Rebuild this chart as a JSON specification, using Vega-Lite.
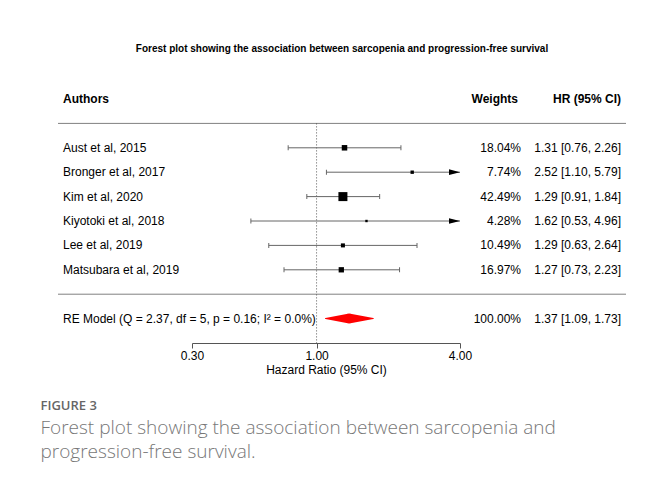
{
  "$schema": "https://vega.github.io/schema/vega-lite/v6.json",
  "padding": {"left": 40, "top": 44, "right": 5, "bottom": 5},
  "background": "white",
  "datasets": {
    "rows": [
      {"study": "Aust et al, 2015", "label": "Aust et al, 2015", "kind": "study", "weight": 18.04, "wlabel": "18.04%", "est": 1.31, "lo": 0.76, "hi": 2.26, "hr": "1.31 [0.76, 2.26]"},
      {"study": "Bronger et al, 2017", "label": "Bronger et al, 2017", "kind": "study", "weight": 7.74, "wlabel": "7.74%", "est": 2.52, "lo": 1.10, "hi": 5.79, "hr": "2.52 [1.10, 5.79]"},
      {"study": "Kim et al, 2020", "label": "Kim et al, 2020", "kind": "study", "weight": 42.49, "wlabel": "42.49%", "est": 1.29, "lo": 0.91, "hi": 1.84, "hr": "1.29 [0.91, 1.84]"},
      {"study": "Kiyotoki et al, 2018", "label": "Kiyotoki et al, 2018", "kind": "study", "weight": 4.28, "wlabel": "4.28%", "est": 1.62, "lo": 0.53, "hi": 4.96, "hr": "1.62 [0.53, 4.96]"},
      {"study": "Lee et al, 2019", "label": "Lee et al, 2019", "kind": "study", "weight": 10.49, "wlabel": "10.49%", "est": 1.29, "lo": 0.63, "hi": 2.64, "hr": "1.29 [0.63, 2.64]"},
      {"study": "Matsubara et al, 2019", "label": "Matsubara et al, 2019", "kind": "study", "weight": 16.97, "wlabel": "16.97%", "est": 1.27, "lo": 0.73, "hi": 2.23, "hr": "1.27 [0.73, 2.23]"},
      {"study": "RE Model", "label": "RE Model (Q = 2.37, df = 5, p = 0.16; I² = 0.0%)", "kind": "summary", "weight": 100, "wlabel": "100.00%", "est": 1.37, "lo": 1.09, "hi": 1.73, "hr": "1.37 [1.09, 1.73]"}
    ]
  },
  "title": {
    "text": "FIGURE 3",
    "subtitle": ["Forest plot showing the association between sarcopenia and", "progression-free survival."],
    "orient": "bottom", "anchor": "start", "dx": -17, "offset": 25,
    "font": "Open Sans", "fontSize": 13, "fontWeight": 600, "color": "#666666",
    "subtitleFont": "Open Sans", "subtitleFontSize": 19, "subtitleFontWeight": 300, "subtitleColor": "#777777",
    "subtitleLineHeight": 24, "subtitlePadding": 6
  },
  "vconcat": [
    {
      "title": {"text": "Forest plot showing the association between sarcopenia and progression-free survival", "anchor": "middle", "font": "Liberation Sans", "fontSize": 10, "fontWeight": "bold", "color": "#000000", "offset": 39},
      "bounds": "flush",
      "spacing": 0,
      "hconcat": [
        {
          "width": 134, "height": 244,
          "layer": [
            {"data": {"values": [{}]}, "mark": {"type": "rule", "color": "#808080"},
             "encoding": {"y": {"datum": "top-rule", "type": "nominal", "axis": null, "scale": {"type": "point", "padding": 0, "domain": ["Authors", "top-rule", "Aust et al, 2015", "Bronger et al, 2017", "Kim et al, 2020", "Kiyotoki et al, 2018", "Lee et al, 2019", "Matsubara et al, 2019", "bottom-rule", "RE Model", "axis"]}}}},
            {"data": {"values": [{}]}, "mark": {"type": "rule", "color": "#808080"},
             "encoding": {"y": {"datum": "bottom-rule", "type": "nominal", "axis": null, "scale": {"type": "point", "padding": 0, "domain": ["Authors", "top-rule", "Aust et al, 2015", "Bronger et al, 2017", "Kim et al, 2020", "Kiyotoki et al, 2018", "Lee et al, 2019", "Matsubara et al, 2019", "bottom-rule", "RE Model", "axis"]}}}},
            {"data": {"values": [{}]}, "mark": {"type": "text", "align": "left", "dx": 5, "fontSize": 12, "fontWeight": "bold", "color": "#000000"},
             "encoding": {"x": {"value": 0}, "text": {"value": "Authors"},
               "y": {"datum": "Authors", "type": "nominal", "axis": null, "scale": {"type": "point", "padding": 0, "domain": ["Authors", "top-rule", "Aust et al, 2015", "Bronger et al, 2017", "Kim et al, 2020", "Kiyotoki et al, 2018", "Lee et al, 2019", "Matsubara et al, 2019", "bottom-rule", "RE Model", "axis"]}}}},
            {"data": {"name": "rows"}, "mark": {"type": "text", "align": "left", "dx": 5, "fontSize": 12, "color": "#000000"},
             "encoding": {"x": {"value": 0}, "text": {"field": "label"},
               "y": {"field": "study", "type": "nominal", "axis": null, "scale": {"type": "point", "padding": 0, "domain": ["Authors", "top-rule", "Aust et al, 2015", "Bronger et al, 2017", "Kim et al, 2020", "Kiyotoki et al, 2018", "Lee et al, 2019", "Matsubara et al, 2019", "bottom-rule", "RE Model", "axis"]}}}}
          ]
        },
        {
          "width": 268, "height": 244,
          "layer": [
            {"data": {"values": [{}]}, "mark": {"type": "rule", "color": "#808080"},
             "encoding": {"y": {"datum": "top-rule", "type": "nominal", "axis": null, "scale": {"type": "point", "padding": 0, "domain": ["Authors", "top-rule", "Aust et al, 2015", "Bronger et al, 2017", "Kim et al, 2020", "Kiyotoki et al, 2018", "Lee et al, 2019", "Matsubara et al, 2019", "bottom-rule", "RE Model", "axis"]}}}},
            {"data": {"values": [{}]}, "mark": {"type": "rule", "color": "#808080"},
             "encoding": {"y": {"datum": "bottom-rule", "type": "nominal", "axis": null, "scale": {"type": "point", "padding": 0, "domain": ["Authors", "top-rule", "Aust et al, 2015", "Bronger et al, 2017", "Kim et al, 2020", "Kiyotoki et al, 2018", "Lee et al, 2019", "Matsubara et al, 2019", "bottom-rule", "RE Model", "axis"]}}}},
            {"data": {"values": [{}]}, "mark": {"type": "rule", "color": "#555555", "strokeDash": [1, 2]},
             "encoding": {
               "x": {"datum": 1, "type": "quantitative", "scale": {"type": "log", "domain": [0.3, 4], "nice": false}, "axis": {"values": [0.3, 1, 4], "format": ".2f", "title": "Hazard Ratio (95% CI)", "grid": false, "domainColor": "#555555", "tickColor": "#555555", "tickSize": 5, "labelFont": "Liberation Sans", "labelFontSize": 12, "labelColor": "#000000", "labelPadding": 2, "labelFlush": false, "labelOverlap": false, "titleFont": "Liberation Sans", "titleFontSize": 12, "titleFontWeight": "normal", "titleColor": "#000000", "titlePadding": 3}},
               "y": {"datum": "top-rule", "type": "nominal", "axis": null, "scale": {"type": "point", "padding": 0, "domain": ["Authors", "top-rule", "Aust et al, 2015", "Bronger et al, 2017", "Kim et al, 2020", "Kiyotoki et al, 2018", "Lee et al, 2019", "Matsubara et al, 2019", "bottom-rule", "RE Model", "axis"]}},
               "y2": {"datum": "axis"}}},
            {"data": {"name": "rows"}, "transform": [{"filter": "datum.kind === 'study'"}],
             "mark": {"type": "rule", "color": "#666666", "clip": true},
             "encoding": {
               "x": {"field": "lo", "type": "quantitative", "scale": {"type": "log", "domain": [0.3, 4], "nice": false}, "axis": {"values": [0.3, 1, 4], "format": ".2f", "title": "Hazard Ratio (95% CI)", "grid": false, "domainColor": "#555555", "tickColor": "#555555", "tickSize": 5, "labelFont": "Liberation Sans", "labelFontSize": 12, "labelColor": "#000000", "labelPadding": 2, "labelFlush": false, "labelOverlap": false, "titleFont": "Liberation Sans", "titleFontSize": 12, "titleFontWeight": "normal", "titleColor": "#000000", "titlePadding": 3}},
               "x2": {"field": "hi"},
               "y": {"field": "study", "type": "nominal", "axis": null, "scale": {"type": "point", "padding": 0, "domain": ["Authors", "top-rule", "Aust et al, 2015", "Bronger et al, 2017", "Kim et al, 2020", "Kiyotoki et al, 2018", "Lee et al, 2019", "Matsubara et al, 2019", "bottom-rule", "RE Model", "axis"]}}}},
            {"data": {"name": "rows"}, "transform": [{"filter": "datum.kind === 'study'"}],
             "mark": {"type": "tick", "orient": "vertical", "size": 5, "thickness": 1, "color": "#666666", "opacity": 1},
             "encoding": {
               "x": {"field": "lo", "type": "quantitative", "scale": {"type": "log", "domain": [0.3, 4], "nice": false}, "axis": {"values": [0.3, 1, 4], "format": ".2f", "title": "Hazard Ratio (95% CI)", "grid": false, "domainColor": "#555555", "tickColor": "#555555", "tickSize": 5, "labelFont": "Liberation Sans", "labelFontSize": 12, "labelColor": "#000000", "labelPadding": 2, "labelFlush": false, "labelOverlap": false, "titleFont": "Liberation Sans", "titleFontSize": 12, "titleFontWeight": "normal", "titleColor": "#000000", "titlePadding": 3}},
               "y": {"field": "study", "type": "nominal", "axis": null, "scale": {"type": "point", "padding": 0, "domain": ["Authors", "top-rule", "Aust et al, 2015", "Bronger et al, 2017", "Kim et al, 2020", "Kiyotoki et al, 2018", "Lee et al, 2019", "Matsubara et al, 2019", "bottom-rule", "RE Model", "axis"]}}}},
            {"data": {"name": "rows"}, "transform": [{"filter": "datum.kind === 'study' && datum.hi <= 4"}],
             "mark": {"type": "tick", "orient": "vertical", "size": 5, "thickness": 1, "color": "#666666", "opacity": 1},
             "encoding": {
               "x": {"field": "hi", "type": "quantitative", "scale": {"type": "log", "domain": [0.3, 4], "nice": false}, "axis": {"values": [0.3, 1, 4], "format": ".2f", "title": "Hazard Ratio (95% CI)", "grid": false, "domainColor": "#555555", "tickColor": "#555555", "tickSize": 5, "labelFont": "Liberation Sans", "labelFontSize": 12, "labelColor": "#000000", "labelPadding": 2, "labelFlush": false, "labelOverlap": false, "titleFont": "Liberation Sans", "titleFontSize": 12, "titleFontWeight": "normal", "titleColor": "#000000", "titlePadding": 3}},
               "y": {"field": "study", "type": "nominal", "axis": null, "scale": {"type": "point", "padding": 0, "domain": ["Authors", "top-rule", "Aust et al, 2015", "Bronger et al, 2017", "Kim et al, 2020", "Kiyotoki et al, 2018", "Lee et al, 2019", "Matsubara et al, 2019", "bottom-rule", "RE Model", "axis"]}}}},
            {"data": {"name": "rows"}, "transform": [{"filter": "datum.kind === 'study'"}],
             "mark": {"type": "point", "shape": "square", "filled": true, "color": "#000000", "opacity": 1},
             "encoding": {
               "x": {"field": "est", "type": "quantitative", "scale": {"type": "log", "domain": [0.3, 4], "nice": false}, "axis": {"values": [0.3, 1, 4], "format": ".2f", "title": "Hazard Ratio (95% CI)", "grid": false, "domainColor": "#555555", "tickColor": "#555555", "tickSize": 5, "labelFont": "Liberation Sans", "labelFontSize": 12, "labelColor": "#000000", "labelPadding": 2, "labelFlush": false, "labelOverlap": false, "titleFont": "Liberation Sans", "titleFontSize": 12, "titleFontWeight": "normal", "titleColor": "#000000", "titlePadding": 3}},
               "y": {"field": "study", "type": "nominal", "axis": null, "scale": {"type": "point", "padding": 0, "domain": ["Authors", "top-rule", "Aust et al, 2015", "Bronger et al, 2017", "Kim et al, 2020", "Kiyotoki et al, 2018", "Lee et al, 2019", "Matsubara et al, 2019", "bottom-rule", "RE Model", "axis"]}},
               "size": {"field": "weight", "type": "quantitative", "legend": null, "scale": {"type": "pow", "exponent": 1.15, "domain": [0, 42.49], "range": [0, 81]}}}},
            {"data": {"name": "rows"}, "transform": [{"filter": "datum.kind === 'study' && datum.hi > 4"}],
             "mark": {"type": "point", "shape": "M0,0L-1,-0.26L-1,0.26Z", "filled": true, "color": "#000000", "size": 484, "opacity": 1},
             "encoding": {
               "x": {"datum": 4, "type": "quantitative", "scale": {"type": "log", "domain": [0.3, 4], "nice": false}, "axis": {"values": [0.3, 1, 4], "format": ".2f", "title": "Hazard Ratio (95% CI)", "grid": false, "domainColor": "#555555", "tickColor": "#555555", "tickSize": 5, "labelFont": "Liberation Sans", "labelFontSize": 12, "labelColor": "#000000", "labelPadding": 2, "labelFlush": false, "labelOverlap": false, "titleFont": "Liberation Sans", "titleFontSize": 12, "titleFontWeight": "normal", "titleColor": "#000000", "titlePadding": 3}},
               "y": {"field": "study", "type": "nominal", "axis": null, "scale": {"type": "point", "padding": 0, "domain": ["Authors", "top-rule", "Aust et al, 2015", "Bronger et al, 2017", "Kim et al, 2020", "Kiyotoki et al, 2018", "Lee et al, 2019", "Matsubara et al, 2019", "bottom-rule", "RE Model", "axis"]}}}},
            {"data": {"name": "rows"}, "transform": [{"filter": "datum.kind === 'summary'"}, {"fold": ["lo", "est", "hi"]}],
             "mark": {"type": "trail", "color": "#ff0000"},
             "encoding": {
               "x": {"field": "value", "type": "quantitative", "scale": {"type": "log", "domain": [0.3, 4], "nice": false}, "axis": {"values": [0.3, 1, 4], "format": ".2f", "title": "Hazard Ratio (95% CI)", "grid": false, "domainColor": "#555555", "tickColor": "#555555", "tickSize": 5, "labelFont": "Liberation Sans", "labelFontSize": 12, "labelColor": "#000000", "labelPadding": 2, "labelFlush": false, "labelOverlap": false, "titleFont": "Liberation Sans", "titleFontSize": 12, "titleFontWeight": "normal", "titleColor": "#000000", "titlePadding": 3}},
               "y": {"field": "study", "type": "nominal", "axis": null, "scale": {"type": "point", "padding": 0, "domain": ["Authors", "top-rule", "Aust et al, 2015", "Bronger et al, 2017", "Kim et al, 2020", "Kiyotoki et al, 2018", "Lee et al, 2019", "Matsubara et al, 2019", "bottom-rule", "RE Model", "axis"]}},
               "size": {"condition": {"test": "datum.key === 'est'", "value": 10}, "value": 0}}}
          ]
        },
        {
          "width": 61, "height": 244,
          "layer": [
            {"data": {"values": [{}]}, "mark": {"type": "rule", "color": "#808080"},
             "encoding": {"y": {"datum": "top-rule", "type": "nominal", "axis": null, "scale": {"type": "point", "padding": 0, "domain": ["Authors", "top-rule", "Aust et al, 2015", "Bronger et al, 2017", "Kim et al, 2020", "Kiyotoki et al, 2018", "Lee et al, 2019", "Matsubara et al, 2019", "bottom-rule", "RE Model", "axis"]}}}},
            {"data": {"values": [{}]}, "mark": {"type": "rule", "color": "#808080"},
             "encoding": {"y": {"datum": "bottom-rule", "type": "nominal", "axis": null, "scale": {"type": "point", "padding": 0, "domain": ["Authors", "top-rule", "Aust et al, 2015", "Bronger et al, 2017", "Kim et al, 2020", "Kiyotoki et al, 2018", "Lee et al, 2019", "Matsubara et al, 2019", "bottom-rule", "RE Model", "axis"]}}}},
            {"data": {"values": [{}]}, "mark": {"type": "text", "align": "right", "dx": -3, "fontSize": 12, "fontWeight": "bold", "color": "#000000"},
             "encoding": {"x": {"value": "width"}, "text": {"value": "Weights"},
               "y": {"datum": "Authors", "type": "nominal", "axis": null, "scale": {"type": "point", "padding": 0, "domain": ["Authors", "top-rule", "Aust et al, 2015", "Bronger et al, 2017", "Kim et al, 2020", "Kiyotoki et al, 2018", "Lee et al, 2019", "Matsubara et al, 2019", "bottom-rule", "RE Model", "axis"]}}}},
            {"data": {"name": "rows"}, "mark": {"type": "text", "align": "right", "fontSize": 12, "color": "#000000"},
             "encoding": {"x": {"value": "width"}, "text": {"field": "wlabel"},
               "y": {"field": "study", "type": "nominal", "axis": null, "scale": {"type": "point", "padding": 0, "domain": ["Authors", "top-rule", "Aust et al, 2015", "Bronger et al, 2017", "Kim et al, 2020", "Kiyotoki et al, 2018", "Lee et al, 2019", "Matsubara et al, 2019", "bottom-rule", "RE Model", "axis"]}}}}
          ]
        },
        {
          "width": 105, "height": 244,
          "layer": [
            {"data": {"values": [{}]}, "mark": {"type": "rule", "color": "#808080"},
             "encoding": {"y": {"datum": "top-rule", "type": "nominal", "axis": null, "scale": {"type": "point", "padding": 0, "domain": ["Authors", "top-rule", "Aust et al, 2015", "Bronger et al, 2017", "Kim et al, 2020", "Kiyotoki et al, 2018", "Lee et al, 2019", "Matsubara et al, 2019", "bottom-rule", "RE Model", "axis"]}}}},
            {"data": {"values": [{}]}, "mark": {"type": "rule", "color": "#808080"},
             "encoding": {"y": {"datum": "bottom-rule", "type": "nominal", "axis": null, "scale": {"type": "point", "padding": 0, "domain": ["Authors", "top-rule", "Aust et al, 2015", "Bronger et al, 2017", "Kim et al, 2020", "Kiyotoki et al, 2018", "Lee et al, 2019", "Matsubara et al, 2019", "bottom-rule", "RE Model", "axis"]}}}},
            {"data": {"values": [{}]}, "mark": {"type": "text", "align": "right", "dx": -5, "fontSize": 12, "fontWeight": "bold", "color": "#000000"},
             "encoding": {"x": {"value": "width"}, "text": {"value": "HR (95% CI)"},
               "y": {"datum": "Authors", "type": "nominal", "axis": null, "scale": {"type": "point", "padding": 0, "domain": ["Authors", "top-rule", "Aust et al, 2015", "Bronger et al, 2017", "Kim et al, 2020", "Kiyotoki et al, 2018", "Lee et al, 2019", "Matsubara et al, 2019", "bottom-rule", "RE Model", "axis"]}}}},
            {"data": {"name": "rows"}, "mark": {"type": "text", "align": "right", "dx": -5, "fontSize": 12, "color": "#000000"},
             "encoding": {"x": {"value": "width"}, "text": {"field": "hr"},
               "y": {"field": "study", "type": "nominal", "axis": null, "scale": {"type": "point", "padding": 0, "domain": ["Authors", "top-rule", "Aust et al, 2015", "Bronger et al, 2017", "Kim et al, 2020", "Kiyotoki et al, 2018", "Lee et al, 2019", "Matsubara et al, 2019", "bottom-rule", "RE Model", "axis"]}}}}
          ]
        }
      ]
    }
  ],
  "config": {
    "view": {"stroke": null},
    "font": "Liberation Sans"
  }
}
